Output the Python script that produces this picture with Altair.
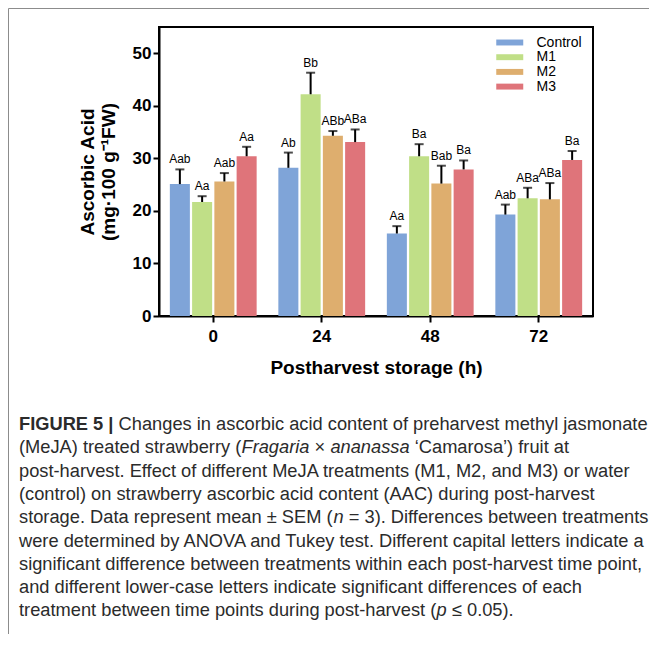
import altair as alt
import pandas as pd

# ---------------- data ----------------
times = ["0", "24", "48", "72"]
treatments = ["Control", "M1", "M2", "M3"]
colors = ["#7fa4d8", "#c0df87", "#deae6e", "#df747a"]

mean_control = [25.1, 28.2, 15.7, 19.3]
mean_m1 = [21.7, 42.2, 30.4, 22.4]
mean_m2 = [25.6, 34.3, 25.2, 22.2]
mean_m3 = [30.4, 33.1, 27.9, 29.7]

sem_control = [2.8, 2.9, 1.4, 1.9]
sem_m1 = [1.1, 4.1, 2.3, 2.0]
sem_m2 = [1.6, 0.9, 3.4, 3.1]
sem_m3 = [1.8, 2.4, 1.7, 1.7]

lab_control = ["Aab", "Ab", "Aa", "Aab"]
lab_m1 = ["Aa", "Bb", "Ba", "ABa"]
lab_m2 = ["Aab", "ABb", "Bab", "ABa"]
lab_m3 = ["Aa", "ABa", "Ba", "Ba"]

y_ticks = [0, 10, 20, 30, 40, 50]

caption_lines = [
    [("FIGURE 5 |", "b"), (" Changes in ascorbic acid content of preharvest methyl jasmonate", "r")],
    [("(MeJA) treated strawberry (", "r"), ("Fragaria", "i"), (" \u00d7 ", "r"), ("ananassa", "i"),
     (" \u2018Camarosa\u2019) fruit at", "r")],
    [("post-harvest. Effect of different MeJA treatments (M1, M2, and M3) or water", "r")],
    [("(control) on strawberry ascorbic acid content (AAC) during post-harvest", "r")],
    [("storage. Data represent mean \u00b1 SEM (", "r"), ("n", "i"), (" = 3). Differences between treatments", "r")],
    [("were determined by ANOVA and Tukey test. Different capital letters indicate a", "r")],
    [("significant difference between treatments within each post-harvest time point,", "r")],
    [("and different lower-case letters indicate significant differences of each", "r")],
    [("treatment between time points during post-harvest (", "r"), ("p", "i"), (" \u2264 0.05).", "r")],
]

rows = []
for tr, means, sems, labs in zip(
    treatments,
    [mean_control, mean_m1, mean_m2, mean_m3],
    [sem_control, sem_m1, sem_m2, sem_m3],
    [lab_control, lab_m1, lab_m2, lab_m3],
):
    for t, m, s, l in zip(times, means, sems, labs):
        rows.append(dict(time=t, treatment=tr, mean=m, top=round(m + s, 2), label=l))
df = pd.DataFrame(rows)

# ---------------- layout ----------------
W, H = 434, 289
PAD_L, PAD_T, PAD_R, PAD_B = 151, 19, 56, 318
FONT = "Liberation Sans"

# Arial / Liberation Sans advance widths (per 1000 em)
REG = {' ': 278, "'": 191, '(': 333, ')': 333, ',': 278, '-': 333, '.': 278, ':': 278, ';': 278,
       '=': 584, '|': 260, '\u00b1': 584, '\u00d7': 584, '\u2264': 549, '\u2018': 222, '\u2019': 222,
       'A': 667, 'B': 667, 'C': 722, 'D': 722, 'E': 667, 'F': 611, 'G': 778, 'H': 722, 'I': 278,
       'J': 500, 'K': 667, 'L': 556, 'M': 833, 'N': 722, 'O': 778, 'P': 667, 'Q': 778, 'R': 722,
       'S': 667, 'T': 611, 'U': 722, 'V': 667, 'W': 944, 'X': 667, 'Y': 667, 'Z': 611,
       'a': 556, 'b': 556, 'c': 500, 'd': 556, 'e': 556, 'f': 278, 'g': 556, 'h': 556, 'i': 222,
       'j': 222, 'k': 500, 'l': 222, 'm': 833, 'n': 556, 'o': 556, 'p': 556, 'q': 556, 'r': 333,
       's': 500, 't': 278, 'u': 556, 'v': 500, 'w': 722, 'x': 500, 'y': 500, 'z': 500}
BOLD = {' ': 278, '|': 280, '5': 556, 'F': 611, 'I': 278, 'G': 778, 'U': 722, 'R': 722, 'E': 667}


def width_em(s, style):
    tbl = BOLD if style == "b" else REG
    return sum(tbl.get(ch, 556) for ch in s) / 1000.0


cap_x0 = 19 - 8 - PAD_L          # page x -> chart x
cap_right = 648 - 8 - PAD_L
line1_em = sum(width_em(s, st) for s, st in caption_lines[0])
cap_fs = (cap_right - cap_x0) / line1_em
cap_y0 = 425 - 8 - PAD_T
cap_dy = 23.3

# legend geometry: symbol path is twice as wide as its nominal size so rows stay compact
sym_nom = 13.5
leg_sym_left = 496 - 8 - PAD_L
leg_x = leg_sym_left + sym_nom - sym_nom / 2
leg_label_x = 536 - 8 - PAD_L
leg_label_off = leg_label_x - (leg_x + sym_nom)

layers = []

x_enc = alt.X("time:N", sort=times,
              scale=alt.Scale(paddingInner=0.2, paddingOuter=0.1),
              axis=alt.Axis(title="Postharvest storage (h)", labelAngle=0, labelPadding=6,
                            titlePadding=14))
xoff = alt.XOffset("treatment:N", sort=treatments,
                   scale=alt.Scale(paddingInner=0.1, paddingOuter=0))
yscale = alt.Scale(domain=[0, 55], nice=False, zero=True)
y_axis = alt.Axis(values=y_ticks, grid=False, title=["Ascorbic Acid", "(mg\u00b7100 g\u207b\u00b9FW)"],
                  titleLineHeight=21, titlePadding=14, labelPadding=2)

base = alt.Chart(df)
bars = base.mark_bar().encode(
    x=x_enc, xOffset=xoff,
    y=alt.Y("mean:Q", scale=yscale, axis=y_axis),
    color=alt.Color("treatment:N", sort=treatments,
                    scale=alt.Scale(domain=treatments, range=colors),
                    legend=alt.Legend(title=None, orient="none", legendX=leg_x, legendY=8.5,
                                      symbolType="M-2,-0.44H2V0.44H-2Z", symbolSize=sym_nom ** 2,
                                      symbolStrokeWidth=0, symbolOpacity=1,
                                      labelFont=FONT, labelFontSize=14, labelColor="black",
                                      labelFontWeight="normal",
                                      labelOffset=leg_label_off, rowPadding=0.7, padding=0)),
)
err = base.mark_rule(color="black", strokeWidth=2).encode(
    x=x_enc, xOffset=xoff, y=alt.Y("mean:Q", scale=yscale, axis=y_axis), y2="top:Q")
caps = base.mark_tick(color="black", thickness=2, size=9, orient="horizontal").encode(
    x=x_enc, xOffset=xoff, y=alt.Y("top:Q", scale=yscale, axis=y_axis))
labels = base.mark_text(font=FONT, fontSize=12, dy=-6, baseline="alphabetic", color="black").encode(
    x=x_enc, xOffset=xoff, y=alt.Y("top:Q", scale=yscale, axis=y_axis), text="label:N")

layers += [bars, err, caps, labels]

one = pd.DataFrame({"k": [0]})
# outer figure frame (left and top thin grey lines)
layers.append(alt.Chart(one).mark_rule(color="#8c8c8c", strokeWidth=1).encode(
    x=alt.value(8.5 - 8 - PAD_L), y=alt.value(8.5 - 8 - PAD_T), y2=alt.value(H + PAD_B)))
layers.append(alt.Chart(one).mark_rule(color="#8c8c8c", strokeWidth=1).encode(
    x=alt.value(8.5 - 8 - PAD_L), x2=alt.value(W + PAD_R), y=alt.value(8.5 - 8 - PAD_T)))

# caption (segments positioned by Arial advance widths; edge spaces become offsets)
for i, line in enumerate(caption_lines):
    x = cap_x0
    y = cap_y0 + i * cap_dy
    for seg, st in line:
        lead = len(seg) - len(seg.lstrip(" "))
        text = seg.strip(" ")
        xs = x + width_em(" " * lead, st) * cap_fs
        layers.append(alt.Chart(pd.DataFrame({"t": [text]})).mark_text(
            font=FONT, fontSize=cap_fs, align="left", baseline="middle", color="#2b2b2b",
            fontWeight="bold" if st == "b" else "normal",
            fontStyle="italic" if st == "i" else "normal",
        ).encode(x=alt.value(xs), y=alt.value(y), text="t:N"))
        x += width_em(seg, st) * cap_fs

chart = alt.layer(*layers).properties(
    width=W, height=H,
    autosize=alt.AutoSizeParams(type="none"),
    padding={"left": PAD_L, "top": PAD_T, "right": PAD_R, "bottom": PAD_B},
).configure_view(
    stroke="black", strokeWidth=2
).configure_axis(
    domainColor="black", domainWidth=2, tickColor="black", tickWidth=2, tickSize=6,
    labelFont=FONT, labelFontSize=17, labelFontWeight="bold", labelColor="black",
    titleFont=FONT, titleFontSize=19, titleFontWeight="bold", titleColor="black",
)

chart.save("out.html", embed_options={"renderer": "svg", "actions": False})
